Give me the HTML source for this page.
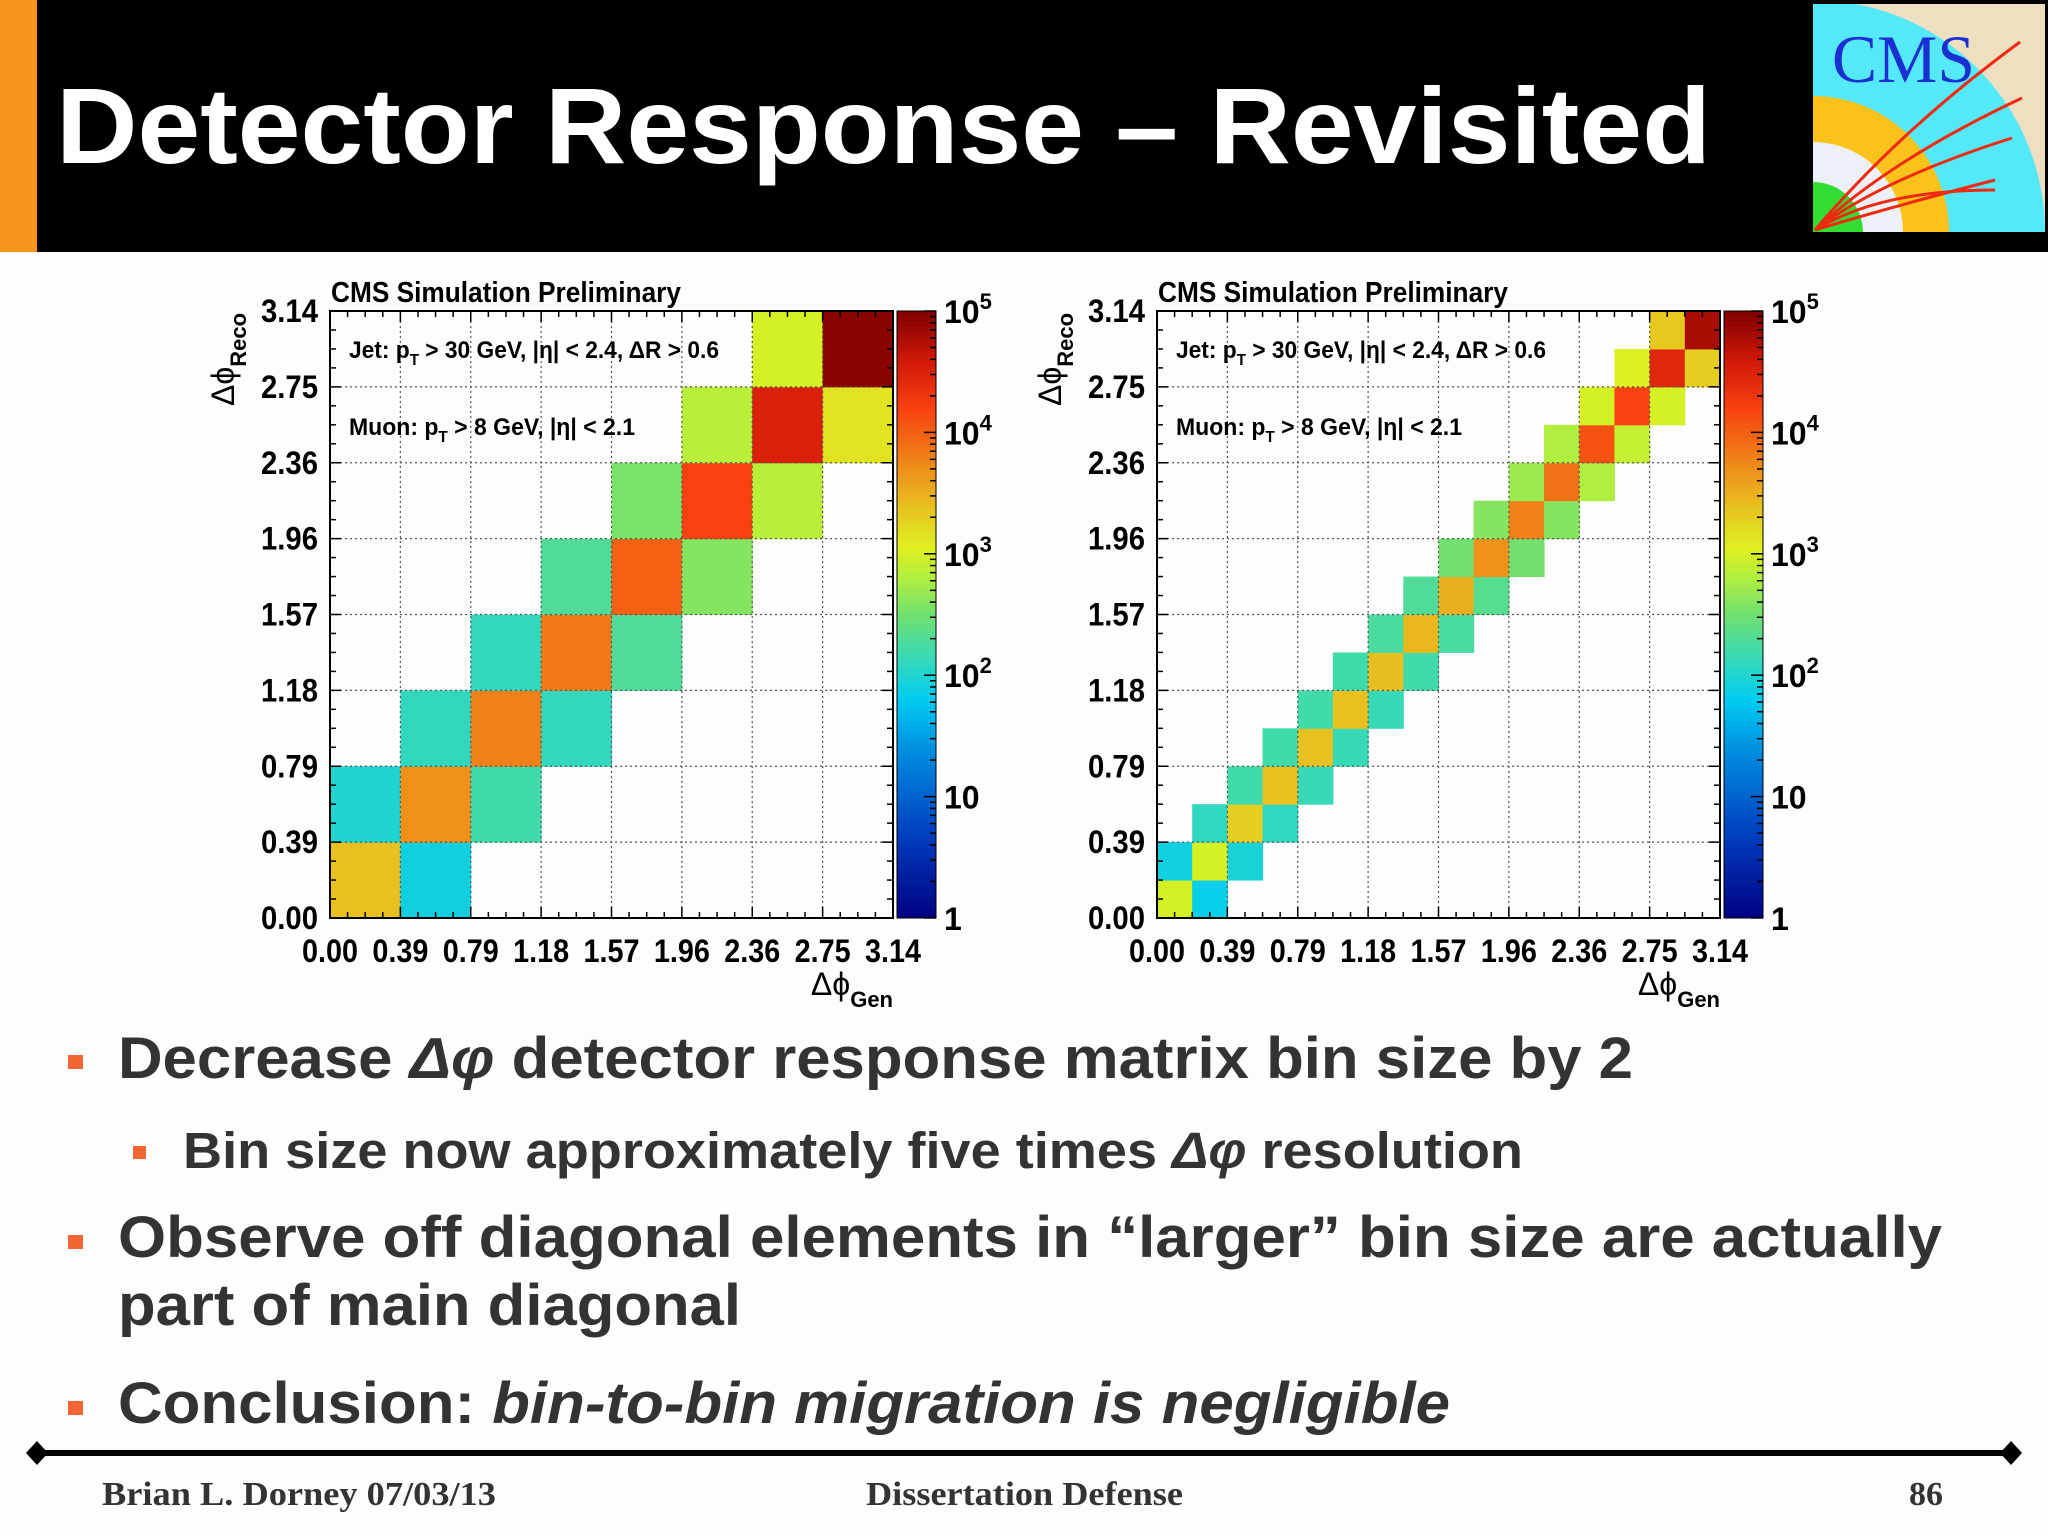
<!DOCTYPE html>
<html><head><meta charset="utf-8">
<style>
html,body{margin:0;padding:0;background:#fdfdfd;}
svg{display:block;}
</style></head>
<body>
<svg id="slide" width="2048" height="1535" viewBox="0 0 2048 1535" xmlns="http://www.w3.org/2000/svg" font-family="Liberation Sans, sans-serif">
  <rect x="0" y="0" width="2048" height="1535" fill="#fdfdfd"/>
  <rect x="0" y="0" width="2048" height="252" fill="#000"/>
  <rect x="0" y="0" width="37" height="252" fill="#f7941d"/>
  <text x="56" y="163" fill="#fff" font-size="108" font-weight="bold" textLength="1655" lengthAdjust="spacingAndGlyphs">Detector Response – Revisited</text>

  <g>
    <clipPath id="lc"><rect x="1813" y="4" width="232" height="228"/></clipPath>
    <rect x="1812" y="3" width="234" height="230" fill="#000"/>
    <g clip-path="url(#lc)">
      <rect x="1813" y="4" width="232" height="228" fill="#eedfc0"/>
      <circle cx="1813" cy="232" r="232" fill="#55e8f8"/>
      <circle cx="1813" cy="232" r="136" fill="#fcc21c"/>
      <circle cx="1813" cy="232" r="90" fill="#eef0f8"/>
      <circle cx="1813" cy="232" r="50" fill="#33dd33"/>
      <g fill="none" stroke="#ee2a10" stroke-width="3">
        <path d="M1815 230 Q1900 130 2020 42"/>
        <path d="M1815 230 Q1890 160 2022 98"/>
        <path d="M1815 230 Q1880 180 2012 138"/>
        <path d="M1815 230 Q1880 210 1995 180"/>
        <path d="M1815 230 Q1880 190 1995 190"/>
      </g>
      <text x="1832" y="82" font-family="Liberation Serif, serif" font-size="68" fill="#1a30d0" textLength="143" lengthAdjust="spacingAndGlyphs">CMS</text>
    </g>
  </g>

  <g id="chartL"></g>
  <g id="chartR"></g>

  <g fill="#333" font-weight="bold">
    <rect x="68" y="1055" width="15" height="14" fill="#f26633"/>
    <text x="118" y="1078" font-size="58" textLength="1515" lengthAdjust="spacingAndGlyphs">Decrease <tspan font-style="italic">Δφ</tspan> detector response matrix bin size by 2</text>
    <rect x="133" y="1146" width="13" height="13" fill="#f26633"/>
    <text x="183" y="1168" font-size="51" textLength="1340" lengthAdjust="spacingAndGlyphs">Bin size now approximately five times <tspan font-style="italic">Δφ</tspan> resolution</text>
    <rect x="68" y="1235" width="15" height="14" fill="#f26633"/>
    <text x="118" y="1257" font-size="58" textLength="1824" lengthAdjust="spacingAndGlyphs">Observe off diagonal elements in “larger” bin size are actually</text>
    <text x="118" y="1325" font-size="58" textLength="623" lengthAdjust="spacingAndGlyphs">part of main diagonal</text>
    <rect x="68" y="1401" width="15" height="14" fill="#f26633"/>
    <text x="118" y="1423" font-size="58" textLength="1332" lengthAdjust="spacingAndGlyphs">Conclusion: <tspan font-style="italic">bin-to-bin migration is negligible</tspan></text>
  </g>

  <g>
    <line x1="37" y1="1453" x2="2011" y2="1453" stroke="#000" stroke-width="6"/>
    <polygon points="26,1453 37,1441 48,1453 37,1465" fill="#000"/>
    <polygon points="2000,1453 2011,1441 2022,1453 2011,1465" fill="#000"/>
    <g font-family="Liberation Serif, serif" font-weight="bold" font-size="34" fill="#333">
      <text x="102" y="1505" textLength="394" lengthAdjust="spacingAndGlyphs">Brian L. Dorney 07/03/13</text>
      <text x="866" y="1505" textLength="317" lengthAdjust="spacingAndGlyphs">Dissertation Defense</text>
      <text x="1909" y="1505" textLength="34" lengthAdjust="spacingAndGlyphs">86</text>
    </g>
  </g>
</svg>
<script>
// ---- Data ----
const xTickLabels = ["0.00","0.39","0.79","1.18","1.57","1.96","2.36","2.75","3.14"];
const yTickLabels = ["0.00","0.39","0.79","1.18","1.57","1.96","2.36","2.75","3.14"];
const zTickBase = ["1","10","10","10","10","10"];
const zTickExp  = ["","","2","3","4","5"];
// left: 8x8 binning
const leftGenBin  = [0,1, 0,1,2, 1,2,3, 2,3,4, 3,4,5, 4,5,6, 5,6,7, 6,7];
const leftRecoBin = [0,0, 1,1,1, 2,2,2, 3,3,3, 4,4,4, 5,5,5, 6,6,6, 7,7];
const leftCounts  = [2500,80, 100,5000,160, 130,6300,130, 130,7000,200, 200,10000,400, 350,16000,700, 700,32000,1400, 1000,90000];
// right: 16x16 binning
const rightGenBin  = [0,1, 0,1,2, 1,2,3, 2,3,4, 3,4,5, 4,5,6, 5,6,7, 6,7,8, 7,8,9, 8,9,10, 9,10,11, 10,11,12, 11,12,13, 12,13,14, 13,14,15, 14,15];
const rightRecoBin = [0,0, 1,1,1, 2,2,2, 3,3,3, 4,4,4, 5,5,5, 6,6,6, 7,7,7, 8,8,8, 9,9,9, 10,10,10, 11,11,11, 12,12,12, 13,13,13, 14,14,14, 15,15];
const rightCounts  = [1000,70, 80,1000,90, 125,2000,125, 160,2500,140, 160,2500,140, 160,2500,140, 160,2600,160, 180,2800,180, 200,3200,220, 320,5000,320, 400,6300,400, 500,8000,630, 630,12000,800, 1000,16000,1000, 1100,28000,2000, 2200,63000];

const NS = "http://www.w3.org/2000/svg";
function mk(parent, tag, attrs){ const e=document.createElementNS(NS,tag); for(const k in attrs) e.setAttribute(k,attrs[k]); parent.appendChild(e); return e; }

const stops = [[0,[0,0,128]],[0.7,[0,64,192]],[1.4,[0,144,224]],[1.8,[0,204,240]],[2.1,[48,216,192]],[2.5,[112,224,112]],[2.8,[176,238,64]],[3.05,[224,240,32]],[3.4,[232,192,32]],[3.8,[240,128,24]],[4.2,[248,64,16]],[4.6,[208,24,8]],[5,[128,0,0]]];
function colorFor(v){
  v=Math.max(0,Math.min(5,v));
  for(let i=0;i<stops.length-1;i++){
    const a=stops[i],b=stops[i+1];
    if(v<=b[0]){ const t=(v-a[0])/(b[0]-a[0]); const c=a[1].map((x,j)=>Math.round(x+(b[1][j]-x)*t)); return `rgb(${c[0]},${c[1]},${c[2]})`; }
  }
  return "rgb(128,0,0)";
}

function drawChart(g, ox, nb, gen, reco, counts){
  const L=ox, R=ox+563, T=311, B=918, W=R-L, H=B-T;
  const xScale = v => L + v/nb*W;
  const yScale = v => B - v/nb*H;
  const zScale = v => B - v/5*H;
  for(let i=0;i<counts.length;i++){
    const r=mk(g,'rect',{x:xScale(gen[i]),y:yScale(reco[i]+1),width:W/nb+0.5,height:H/nb+0.5,fill:colorFor(Math.log10(counts[i]))});
    
    
  }
  for(let i=1;i<8;i++){
    const gx=mk(g,'line',{x1:L+i*W/8,y1:T,x2:L+i*W/8,y2:B,stroke:'#555','stroke-width':1.2,'stroke-dasharray':'2,3'});
    
    
    const gy=mk(g,'line',{x1:L,y1:T+i*H/8,x2:R,y2:T+i*H/8,stroke:'#555','stroke-width':1.2,'stroke-dasharray':'2,3'});
    
    
  }
  const tk=mk(g,'g',{stroke:'#000','stroke-width':1.5});
  
  
  for(let i=0;i<=32;i++){
    const len = i%4===0?11:6;
    const x=L+i*W/32, y=B-i*H/32;
    mk(tk,'line',{x1:x,y1:B,x2:x,y2:B-len});
    mk(tk,'line',{x1:x,y1:T,x2:x,y2:T+len});
    mk(tk,'line',{x1:L,y1:y,x2:L+len,y2:y});
    mk(tk,'line',{x1:R,y1:y,x2:R-len,y2:y});
  }
  const fr=mk(g,'rect',{x:L,y:T,width:W,height:H,fill:'none',stroke:'#000','stroke-width':2});
  
  
  xTickLabels.forEach((t,i)=>{
    const e=mk(g,'text',{x:L+i*W/8,y:962,'text-anchor':'middle','font-size':32,'font-weight':'bold',textLength:56,lengthAdjust:'spacingAndGlyphs'}); e.textContent=t;
    
    
  });
  yTickLabels.forEach((t,i)=>{
    const e=mk(g,'text',{x:L-12,y:B-i*H/8+11,'text-anchor':'end','font-size':32,'font-weight':'bold',textLength:57,lengthAdjust:'spacingAndGlyphs'}); e.textContent=t;
    
    
  });
  const tt=mk(g,'text',{x:L+1,y:302,'font-size':29,'font-weight':'bold',textLength:350,lengthAdjust:'spacingAndGlyphs'}); tt.textContent='CMS Simulation Preliminary';
  
  
  const xt=mk(g,'text',{x:R,y:995,'text-anchor':'end','font-size':32});
  xt.innerHTML='Δϕ<tspan font-size="22" font-weight="bold" dy="12">Gen</tspan>';
  
  
  const yt=mk(g,'text',{x:0,y:0,'font-size':32,transform:`translate(${L-96},406) rotate(-90)`});
  yt.innerHTML='Δϕ<tspan font-size="22" font-weight="bold" dy="12">Reco</tspan>';
  
  
  const a1=mk(g,'text',{x:L+19,y:358,'font-size':24,'font-weight':'bold',textLength:370,lengthAdjust:'spacingAndGlyphs'});
  a1.innerHTML='Jet: p<tspan font-size="16" dy="7">T</tspan><tspan dy="-7"> &gt; 30 GeV, |η| &lt; 2.4, ΔR &gt; 0.6</tspan>';
  
  
  const a2=mk(g,'text',{x:L+19,y:435,'font-size':24,'font-weight':'bold',textLength:286,lengthAdjust:'spacingAndGlyphs'});
  a2.innerHTML='Muon: p<tspan font-size="16" dy="7">T</tspan><tspan dy="-7"> &gt; 8 GeV, |η| &lt; 2.1</tspan>';
  
  
  const cx=R+4, cw=39;
  const cb=mk(g,'g',{});
  
  
  for(let i=0;i<120;i++){
    const v0=i/120*5;
    mk(cb,'rect',{x:cx,y:zScale(v0+5/120)-0.5,width:cw,height:H/120+1,fill:colorFor(v0+2.5/120)});
  }
  mk(cb,'rect',{x:cx,y:T,width:cw,height:H,fill:'none',stroke:'#000','stroke-width':1});
  for(let d=0;d<5;d++){
    for(let m=1;m<=9;m++){
      const y=zScale(d+Math.log10(m));
      mk(cb,'line',{x1:cx+cw,y1:y,x2:cx+cw-(m===1?12:6),y2:y,stroke:'#000','stroke-width':1.5});
    }
  }
  mk(cb,'line',{x1:cx+cw,y1:T,x2:cx+cw-12,y2:T,stroke:'#000','stroke-width':1.5});
  zTickBase.forEach((t,i)=>{
    const e=mk(g,'text',{x:cx+cw+8,y:zScale(i)+12,'font-size':32,'font-weight':'bold'});
    e.innerHTML = t + (zTickExp[i] ? '<tspan font-size="22" dy="-14">'+zTickExp[i]+'</tspan>' : '');
    
    
  });
}
drawChart(document.getElementById('chartL'),330,8,leftGenBin,leftRecoBin,leftCounts);
drawChart(document.getElementById('chartR'),1157,16,rightGenBin,rightRecoBin,rightCounts);
</script>
</body></html>
